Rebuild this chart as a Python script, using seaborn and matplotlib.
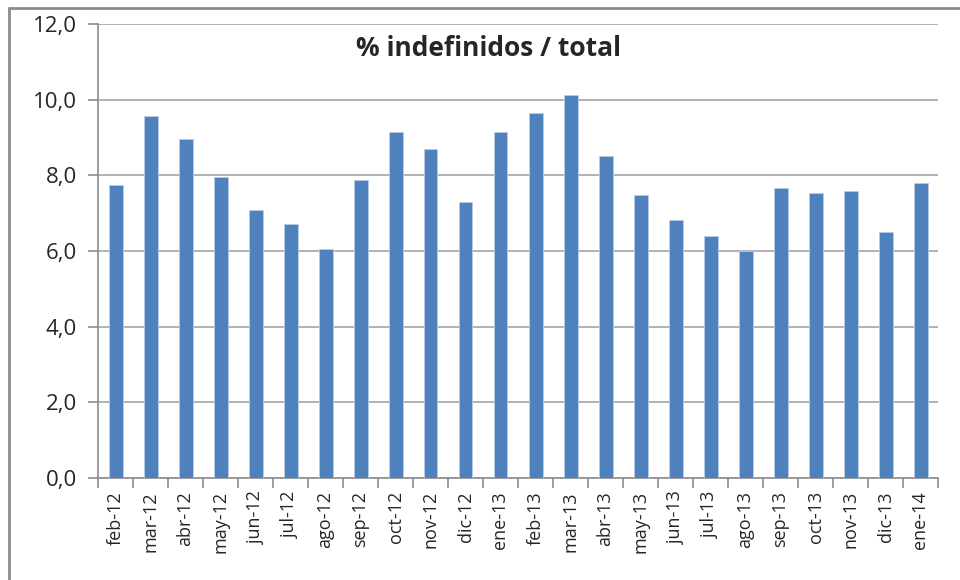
import matplotlib.pyplot as plt
import seaborn as sns
import pandas as pd
from matplotlib.lines import Line2D

# data
months = ['feb-12', 'mar-12', 'abr-12', 'may-12', 'jun-12', 'jul-12', 'ago-12',
          'sep-12', 'oct-12', 'nov-12', 'dic-12', 'ene-13', 'feb-13', 'mar-13',
          'abr-13', 'may-13', 'jun-13', 'jul-13', 'ago-13', 'sep-13', 'oct-13',
          'nov-13', 'dic-13', 'ene-14']
values = [7.74, 9.57, 8.96, 7.96, 7.08, 6.71, 6.05, 7.88, 9.15, 8.70, 7.30, 9.15,
          9.65, 10.12, 8.51, 7.48, 6.82, 6.40, 6.00, 7.67, 7.53, 7.59, 6.50, 7.80]
yticks = [0, 2, 4, 6, 8, 10, 12]

df = pd.DataFrame({'mes': months, 'pct': values})

sns.set_style('white')
plt.rcParams['font.family'] = ['Open Sans', 'DejaVu Sans']

fig = plt.figure(figsize=(9.6, 5.8), dpi=100)
ax = fig.add_axes([98 / 960, 1 - 478 / 580, 840 / 960, 454 / 580])

sns.barplot(data=df, x='mes', y='pct', ax=ax, color='#4F81BD', width=0.4,
            saturation=1, edgecolor='#B9CDE5', linewidth=0.6, zorder=3)

ax.set_ylim(0, 12)
ax.set_xlim(-0.5, len(months) - 0.5)
ax.set_yticks(yticks)
ax.set_yticklabels([f'{v:.1f}'.replace('.', ',') for v in yticks], fontsize=16)
ax.set_xticks(range(len(months)))
ax.set_xticklabels(months, rotation=90, fontsize=13)
ax.set_xlabel('')
ax.set_ylabel('')

ax.yaxis.grid(True, color='#A6A6A6', linewidth=1.2, zorder=0)
for s in ['top', 'right']:
    ax.spines[s].set_visible(False)
for s in ['left', 'bottom']:
    ax.spines[s].set_color('#8C8C8C')
    ax.spines[s].set_linewidth(1.2)

# ticks on the y axis, category separators on the x axis
ax.tick_params(axis='y', which='major', left=True, length=7, color='#8C8C8C', width=1.2, pad=8)
ax.tick_params(axis='x', which='major', bottom=False, pad=6)
ax.set_xticks([i + 0.5 for i in range(-1, len(months))], minor=True)
ax.tick_params(axis='x', which='minor', bottom=True, length=7, color='#8C8C8C', width=1.2)

ax.text(0.465, 0.947, '% indefinidos / total', transform=ax.transAxes, ha='center',
        va='center', fontsize=19, fontweight='bold')

# outer chart frame (only top and left visible)
fig.add_artist(Line2D([9 / 960, 9 / 960], [0, 1 - 8 / 580], transform=fig.transFigure,
                      color='#8C8C8C', linewidth=2))
fig.add_artist(Line2D([9 / 960, 1], [1 - 8 / 580, 1 - 8 / 580], transform=fig.transFigure,
                      color='#8C8C8C', linewidth=2))

fig.savefig('out.png', dpi=100)
